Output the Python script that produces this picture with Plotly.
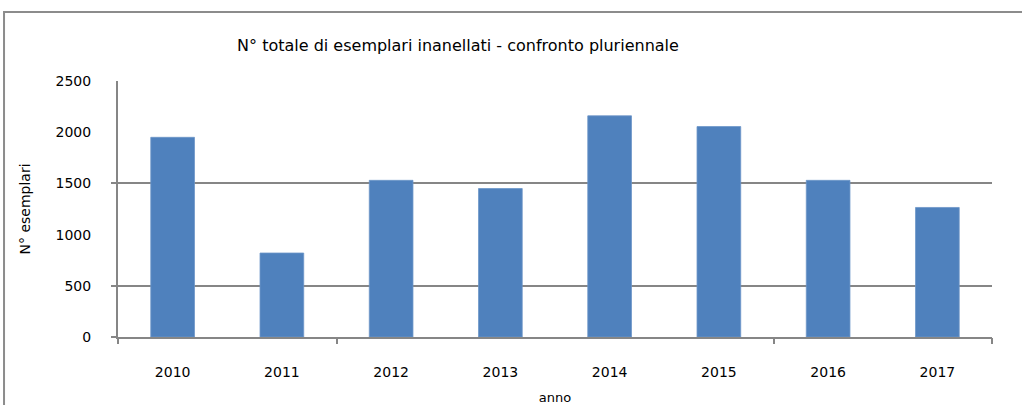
import plotly.graph_objects as go

# Dati: numero totale di esemplari inanellati per anno
anni = ["2010", "2011", "2012", "2013", "2014", "2015", "2016", "2017"]
esemplari = [1950, 820, 1530, 1450, 2160, 2055, 1530, 1265]
y_ticks = [0, 500, 1000, 1500, 2000, 2500]
y_grid = [0, 500, 1500]
x_sep = [-0.5, 1.5, 5.5, 7.5]

FONT = "DejaVu Sans, Verdana, sans-serif"
GREY = "#868686"

fig = go.Figure()
fig.add_trace(go.Bar(
    x=anni, y=esemplari,
    marker=dict(color="#4F81BD", line=dict(color="#6C95C8", width=0.8)),
    width=0.4,
    showlegend=False,
    hoverinfo="x+y",
))
# traccia invisibile per gli assi secondari (griglia e tacche)
fig.add_trace(go.Scatter(
    x=[x_sep[0]], y=[0], xaxis="x2", yaxis="y2",
    mode="markers", marker=dict(opacity=0), showlegend=False, hoverinfo="skip",
))

fig.update_layout(
    width=1022, height=405,
    margin=dict(l=118, r=30, t=81, b=68, autoexpand=False),
    paper_bgcolor="white", plot_bgcolor="white",
    font=dict(family=FONT, size=14, color="black"),
    title=dict(
        text="N° totale di esemplari inanellati - confronto pluriennale",
        font=dict(family=FONT, size=16, color="black"),
        x=0.389, xref="paper", xanchor="center",
        y=1 - 45 / 405, yref="container", yanchor="middle",
    ),
    xaxis=dict(
        type="category", range=[-0.5, 7.5], automargin=False,
        showline=True, linecolor=GREY, linewidth=2,
        ticks="", showgrid=False, zeroline=False,
        ticklabelstandoff=21, tickfont=dict(size=14),
        title=dict(text="anno", font=dict(size=13), standoff=14),
    ),
    yaxis=dict(
        range=[0, 2500], tickvals=y_ticks, automargin=False,
        showline=True, linecolor=GREY, linewidth=2,
        ticks="", showgrid=False, zeroline=False,
        ticklabelstandoff=22, tickfont=dict(size=14),
        title=dict(text="N° esemplari", font=dict(size=14), standoff=22),
    ),
    xaxis2=dict(
        overlaying="x", range=[-0.5, 7.5], tickvals=x_sep,
        showticklabels=False, ticks="outside", ticklen=6, tickwidth=1.5,
        tickcolor=GREY, showgrid=False, zeroline=False, showline=False,
        anchor="y2", side="bottom", automargin=False,
    ),
    yaxis2=dict(
        overlaying="y", range=[0, 2500], tickvals=y_grid,
        showticklabels=False, ticks="outside", ticklen=6, tickwidth=1.5,
        tickcolor=GREY, showgrid=True, gridcolor=GREY, gridwidth=2,
        zeroline=False, showline=False, anchor="x2", side="left",
        layer="below traces", automargin=False,
    ),
    shapes=[
        dict(type="rect", xref="paper", yref="paper",
             x0=-0.1304, x1=1.3, y0=-0.6, y1=1.2695,
             line=dict(color="#8C8C8C", width=2), fillcolor="rgba(0,0,0,0)",
             layer="above"),
    ],
)

fig.write_html("out.html")
